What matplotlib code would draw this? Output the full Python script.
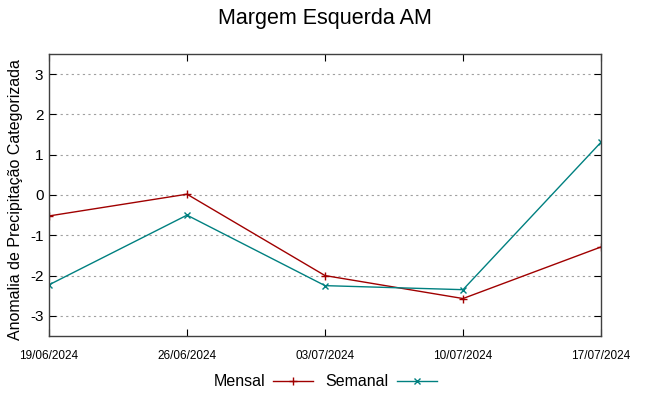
import matplotlib
matplotlib.use("Agg")
import matplotlib.pyplot as plt

datas = ["19/06/2024", "26/06/2024", "03/07/2024", "10/07/2024", "17/07/2024"]
mensal = [-0.52, 0.02, -2.0, -2.57, -1.29]
semanal = [-2.23, -0.50, -2.25, -2.35, 1.31]

plt.rcParams['font.family'] = ['Liberation Sans', 'DejaVu Sans']
plt.rcParams['axes.unicode_minus'] = False

fig = plt.figure(figsize=(6.49, 3.96), dpi=100)
ax = fig.add_axes([49/649, 60/396, 552/649, 282/396])

x = range(len(datas))
ax.plot(x, mensal, color='#a00000', lw=1, marker='+', ms=6, mew=1, label='Mensal')
ax.plot(x, semanal, color='#008080', lw=1, marker='x', ms=5, mew=1, label='Semanal')

ax.set_xlim(0, len(datas) - 1)
ax.set_ylim(-3.5, 3.5)
ax.set_yticks(range(-3, 4))
ax.set_xticks(list(x))
ax.set_xticklabels(datas, fontsize=8.5)
ax.tick_params(axis='y', labelsize=11, direction='in', right=True, length=5, pad=4)
ax.tick_params(axis='x', direction='in', top=True, length=5, pad=10)
ax.grid(True, axis='y', color='#a0a0a0', ls=(0, (2, 3)), lw=0.8)
for s in ax.spines.values():
    s.set_color('#404040')
    s.set_linewidth(1)

ax.set_ylabel('Anomalia de Precipitação Categorizada', fontsize=11.5)
ax.yaxis.set_label_coords(-0.047, 0.485)
fig.suptitle('Margem Esquerda AM', fontsize=15.5, y=0.98)

ax.legend(loc='center', bbox_to_anchor=(0.5, -0.163), ncol=2, frameon=False,
          markerfirst=False, fontsize=11.5, handlelength=2.5, columnspacing=0.8,
          handletextpad=0.5)

fig.savefig('out.png', dpi=100)
